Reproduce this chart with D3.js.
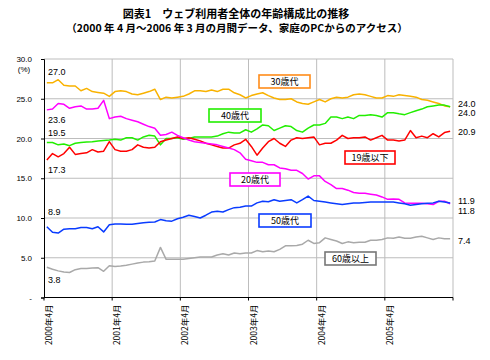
<!DOCTYPE html>
<html><head><meta charset="utf-8">
<script src="https://cdn.jsdelivr.net/npm/d3@7"></script>
<style>
body{margin:0;background:#fff;}
svg{display:block;}
text{font-family:"Liberation Sans","Noto Sans CJK JP",sans-serif;}
.jp{font-family:"Noto Sans CJK JP","Liberation Sans",sans-serif;}
</style></head>
<body><svg id="c" width="490" height="360"></svg>
<script>
const years = [2000, 2001, 2002, 2003, 2004, 2005];
const tickLabels = ["2000年4月","2001年4月","2002年4月","2003年4月","2004年4月","2005年4月"];
const seriesNames = ["30歳代","40歳代","19歳以下","20歳代","50歳代","60歳以上"];

const s30 = [27.0,27.0,27.4,26.7,26.6,26.6,26.0,26.3,25.9,25.8,25.7,25.3,
             25.9,26.0,25.9,25.6,25.5,25.7,25.9,26.2,24.9,25.2,25.1,25.2,
             25.3,25.6,26.0,26.0,25.9,26.1,25.9,26.2,26.2,25.75,25.5,25.1,
             25.4,25.6,25.75,25.4,25.1,24.9,24.9,25.0,24.6,24.4,24.3,24.6,
             24.9,24.6,25.0,25.2,25.1,25.2,25.5,25.6,25.5,25.3,25.1,25.1,
             25.4,25.3,25.5,25.4,25.3,25.2,24.9,24.8,24.6,24.4,24.1,24.0];
const s40 = [19.5,19.5,19.2,19.3,19.1,19.4,19.5,19.55,19.6,19.7,19.75,19.8,
             19.9,19.8,20.1,20.1,19.8,20.2,20.4,20.3,19.2,20.0,20.0,20.1,
             19.9,20.0,20.2,20.2,20.2,20.2,20.3,20.6,20.8,20.7,20.7,21.1,
             20.8,21.2,21.7,21.6,21.0,21.3,21.6,21.5,21.0,20.8,21.3,21.7,
             21.7,21.9,22.7,22.7,22.5,22.7,22.5,22.9,22.9,23.0,22.9,22.7,
             23.25,23.25,23.1,23.0,23.25,23.5,23.7,24.0,24.1,24.2,24.2,24.0];
const s19 = [17.3,18.1,17.7,18.1,18.9,18.0,18.1,18.2,18.6,18.3,18.4,19.6,
             18.6,18.4,18.4,18.6,19.2,18.9,18.8,18.9,19.6,19.8,20.0,20.2,
             20.0,20.1,19.9,19.7,19.4,19.2,19.0,18.8,18.8,19.2,19.4,19.9,
             19.0,17.9,18.8,19.6,20.0,19.4,19.0,19.8,20.1,20.0,20.1,20.2,
             19.2,19.4,19.4,19.8,20.4,20.0,20.1,20.1,20.2,19.8,20.1,20.4,
             19.8,19.8,19.7,19.8,21.0,20.1,20.3,20.1,20.6,20.2,20.75,20.9];
const s20 = [23.6,23.7,24.4,24.3,23.8,24.0,24.1,23.7,23.7,23.8,24.8,22.5,
             22.7,22.8,22.5,22.3,22.1,21.8,21.5,21.3,20.4,20.5,20.8,20.4,
             20.1,19.8,19.6,19.5,19.4,19.3,19.2,19.0,18.8,18.6,18.2,17.4,
             17.2,17.0,17.0,16.7,16.7,16.3,16.2,16.0,16.0,15.6,14.9,15.3,
             15.3,14.6,14.2,13.7,13.7,13.5,13.2,13.1,13.1,13.0,12.9,12.65,
             12.35,12.4,12.35,11.9,11.85,11.85,11.85,11.8,11.7,12.1,12.1,11.8];
const s50 = [8.9,8.2,8.1,8.6,8.65,8.65,8.8,8.8,8.65,8.9,8.25,9.15,
             9.25,9.25,9.2,9.2,9.3,9.4,9.45,9.5,9.8,9.65,9.6,9.9,
             10.1,10.35,10.2,10.0,10.35,10.75,10.85,10.75,11.05,11.3,11.35,11.5,
             11.5,11.9,12.1,12.05,12.3,12.1,12.2,12.3,11.9,12.3,12.75,12.2,
             12.1,12.0,11.9,11.8,11.7,11.8,11.9,11.9,11.95,12.0,12.0,12.0,
             12.0,12.0,11.9,11.8,11.6,11.7,11.8,11.85,11.9,12.1,12.0,11.9];
const s60 = [3.8,3.55,3.35,3.2,3.15,3.5,3.65,3.65,3.7,3.75,3.3,4.0,
             3.9,3.95,4.05,4.2,4.35,4.45,4.5,4.6,6.3,4.8,4.8,4.8,
             4.8,4.9,5.0,5.1,5.1,5.1,5.35,5.5,5.35,5.6,5.5,5.6,
             5.6,5.9,5.75,5.85,5.75,6.05,6.5,6.5,6.55,6.7,7.2,6.8,
             6.9,7.5,7.3,7.1,6.8,7.0,6.9,6.95,6.95,7.2,7.2,7.3,
             7.5,7.45,7.6,7.45,7.45,7.6,7.7,7.5,7.3,7.5,7.4,7.4];
const yTicks = [0,5,10,15,20,25,30];

// months (categories): 2000年4月 .. 2006年3月
const months = [];
for (let y = 2000; y <= 2006; y++) for (let m = 1; m <= 12; m++) {
  if ((y === 2000 && m < 4) || (y === 2006 && m > 3)) continue;
  months.push(y + "年" + m + "月");
}

const svg = d3.select("#c");
const L = 44, R = 453, T = 59, B = 297.5;
const x = d3.scaleBand().domain(months).range([L, R]).padding(0);
const y = d3.scaleLinear().domain([0, 30]).range([B, T]);
const cx = i => x(months[i]) + x.bandwidth() / 2;

// title
svg.append("text").attr("class","jp").attr("x",236).attr("y",18).attr("text-anchor","middle")
  .attr("font-size",11).attr("font-weight","bold").text("図表1　ウェブ利用者全体の年齢構成比の推移");
svg.append("text").attr("class","jp").attr("x",237).attr("y",32).attr("text-anchor","middle")
  .attr("font-size",10.5).attr("font-weight","bold").text("（2000 年 4 月～2006 年 3 月の月間データ、家庭のPCからのアクセス）");

// grid
const g = svg.append("g");
g.selectAll("line.h").data(yTicks.filter(d => d > 0)).join("line")
  .attr("x1", L).attr("x2", R).attr("y1", d => y(d)).attr("y2", d => y(d))
  .attr("stroke", "#bdbdbd").attr("stroke-width", 1);
const yearIdx = years.map((yy, k) => k * 12);
g.selectAll("line.v").data(yearIdx.slice(1).concat([72])).join("line")
  .attr("x1", d => d === 72 ? R : x(months[d])).attr("x2", d => d === 72 ? R : x(months[d]))
  .attr("y1", T).attr("y2", B).attr("stroke", "#bdbdbd").attr("stroke-width", 1);

// axes
const yAxis = d3.axisLeft(y).tickValues(yTicks).tickSize(3)
  .tickFormat(d => d === 0 ? "-" : d3.format(".1f")(d));
const ya = svg.append("g").attr("transform", `translate(${L},0)`).call(yAxis);
ya.select(".domain").attr("stroke", "#000");
ya.selectAll(".tick line").attr("stroke", "#000");
ya.selectAll(".tick text").attr("font-size", 8).attr("x", -12).attr("fill", "#000")
  .attr("font-family", "Liberation Sans, sans-serif");
svg.append("text").attr("x", 24).attr("y", 72).attr("text-anchor", "middle")
  .attr("font-size", 8).text("(%)");

const xa = svg.append("g").attr("transform", `translate(0,${B})`);
xa.append("line").attr("x1", L).attr("x2", R).attr("stroke", "#000");
const xt = xa.selectAll("g.t").data(yearIdx.concat([72])).join("g")
  .attr("transform", d => `translate(${d === 72 ? R : x(months[d])},0)`);
xt.append("line").attr("y1", 0).attr("y2", 3).attr("stroke", "#000");
xt.filter(d => d < 72).append("text").attr("class","jp")
  .attr("transform", "translate(4,7) rotate(-90)")
  .attr("text-anchor", "end").attr("dominant-baseline","central")
  .attr("font-size", 8.5).text((d, k) => tickLabels[k]);

// lines
const series = [
  {v: s30, c: "#f9b200"},
  {v: s40, c: "#22ee00"},
  {v: s19, c: "#ff0000"},
  {v: s20, c: "#ff00ff"},
  {v: s50, c: "#0a3cff"},
  {v: s60, c: "#a9a9a9"}
];
const line = d3.line().x((d, i) => cx(i)).y(d => y(d));
svg.selectAll("path.s").data(series).join("path")
  .attr("fill", "none").attr("stroke", d => d.c).attr("stroke-width", 1.5)
  .attr("stroke-linejoin", "round").attr("d", d => line(d.v));

// start / end value labels
const f1 = d3.format(".1f");
const startLab = [[s30, 72],[s20, 119.5],[s40, 132.5],[s19, 169.5],[s50, 212],[s60, 280]];
startLab.forEach(([s, yy]) => svg.append("text").attr("x", 48).attr("y", yy)
  .attr("dominant-baseline","central").attr("font-size", 9).text(f1(s[0])));
const endLab = [[s40, 104],[s30, 113],[s19, 131.5],[s50, 200.5],[s20, 211],[s60, 240.5]];
endLab.forEach(([s, yy]) => svg.append("text").attr("x", 458).attr("y", yy)
  .attr("dominant-baseline","central").attr("font-size", 9).text(f1(s[s.length-1])));

// legend boxes
const boxes = [
  {n: 0, x: 259, y: 75, w: 51, c: "#ff8c1a"},
  {n: 1, x: 209, y: 109, w: 52, c: "#22ee00"},
  {n: 2, x: 345, y: 151, w: 50, c: "#ff0000"},
  {n: 3, x: 230, y: 173, w: 50, c: "#ff00ff"},
  {n: 4, x: 259, y: 214, w: 52, c: "#0a3cff"},
  {n: 5, x: 325, y: 252, w: 51, c: "#777777"}
];
const bg = svg.selectAll("g.box").data(boxes).join("g");
bg.append("rect").attr("x", d => d.x).attr("y", d => d.y).attr("width", d => d.w).attr("height", 13)
  .attr("fill", "#fff").attr("stroke", d => d.c).attr("stroke-width", 1.6);
bg.append("text").attr("class","jp").attr("x", d => d.x + d.w/2).attr("y", d => d.y + 6.8)
  .attr("text-anchor","middle").attr("dominant-baseline","central").attr("font-size", 9)
  .text(d => seriesNames[d.n]);
</script></body></html>
